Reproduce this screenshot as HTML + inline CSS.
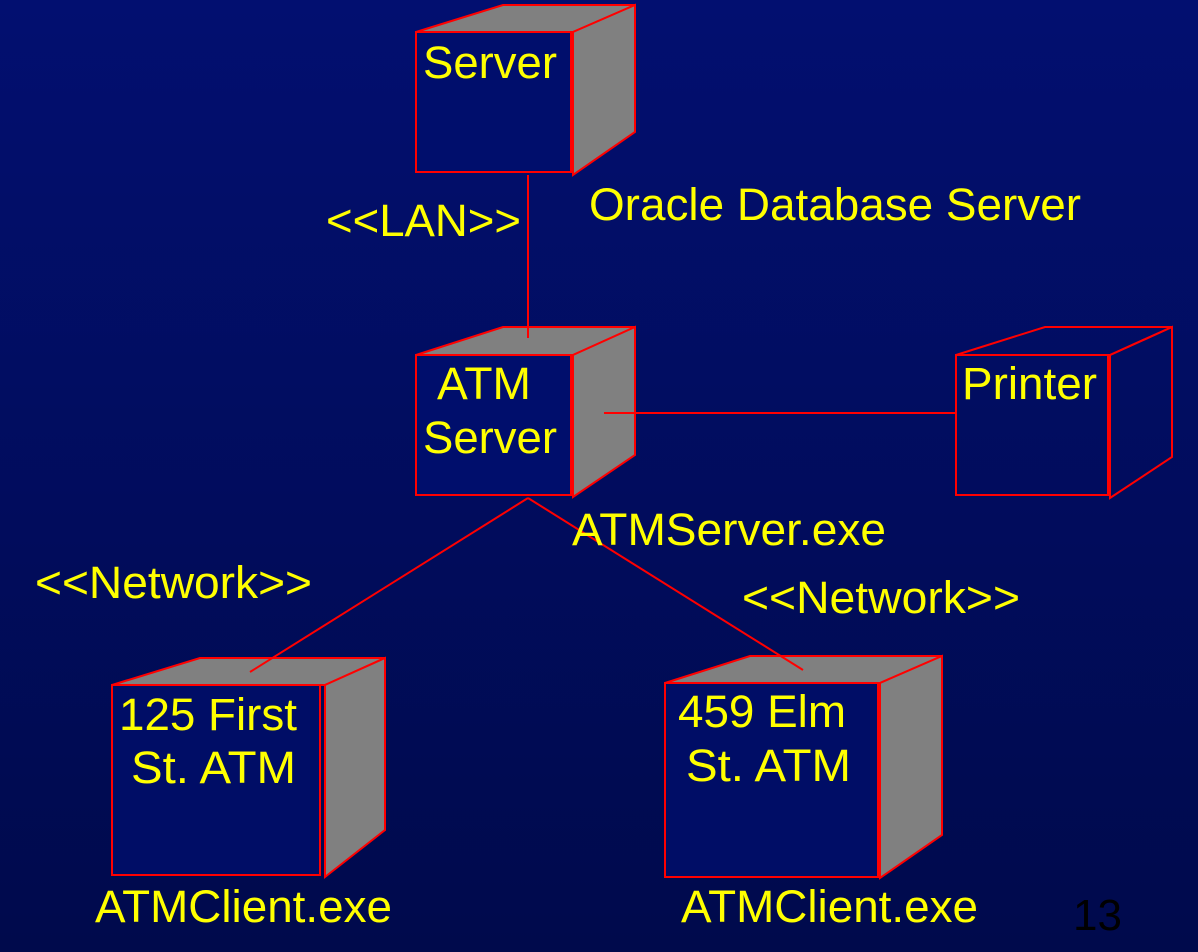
<!DOCTYPE html>
<html><head><meta charset="utf-8"><style>
html,body{margin:0;padding:0;}
body{width:1198px;height:952px;overflow:hidden;background:linear-gradient(#020f70,#000a4c);}
svg{display:block}
text{font-family:"Liberation Sans",Arial,sans-serif;font-size:45px;fill:#ffff00;}
</style></head><body>
<svg width="1198" height="952" viewBox="0 0 1198 952">
<g stroke="#ff0000" stroke-width="2" stroke-linejoin="miter">
<polygon points="416,32 503,5 635,5 573,32" fill="#808080"/>
<polygon points="573,32 635,5 635,132 573,175" fill="#808080"/>
<rect x="416" y="32" width="155" height="140" fill="#000e6c"/>
<polygon points="416,355 503,327 635,327 573,355" fill="#808080"/>
<polygon points="573,355 635,327 635,455 573,497" fill="#808080"/>
<rect x="416" y="355" width="155" height="140" fill="#000e6c"/>
<polygon points="956,355 1045,327 1172,327 1110,355" fill="none"/>
<polygon points="1110,355 1172,327 1172,457 1110,498" fill="none"/>
<rect x="956" y="355" width="152" height="140" fill="none"/>
<polygon points="112,685 200,658 385,658 325,685" fill="#808080"/>
<polygon points="325,685 385,658 385,830 325,877" fill="#808080"/>
<rect x="112" y="685" width="208" height="190" fill="#000d66"/>
<polygon points="665,683 750,656 942,656 880,683" fill="#808080"/>
<polygon points="880,683 942,656 942,835 880,878" fill="#808080"/>
<rect x="665" y="683" width="213" height="194" fill="#000d66"/>
<line x1="528" y1="175" x2="528" y2="338"/>
<line x1="604" y1="413" x2="956" y2="413"/>
<line x1="528" y1="498" x2="250" y2="672"/>
<line x1="528" y1="498" x2="803" y2="670"/>
</g>
<g lengthAdjust="spacingAndGlyphs">
<text x="423" y="78" textLength="134" lengthAdjust="spacingAndGlyphs">Server</text>
<text x="589" y="220" textLength="492" lengthAdjust="spacingAndGlyphs">Oracle Database Server</text>
<text x="326" y="236" textLength="195" lengthAdjust="spacingAndGlyphs">&lt;&lt;LAN&gt;&gt;</text>
<text x="437" y="399" textLength="94" lengthAdjust="spacingAndGlyphs">ATM</text>
<text x="423" y="453" textLength="134" lengthAdjust="spacingAndGlyphs">Server</text>
<text x="962" y="399" textLength="135" lengthAdjust="spacingAndGlyphs">Printer</text>
<text x="572" y="545" textLength="314" lengthAdjust="spacingAndGlyphs">ATMServer.exe</text>
<text x="35" y="598" textLength="277" lengthAdjust="spacingAndGlyphs">&lt;&lt;Network&gt;&gt;</text>
<text x="742" y="613" textLength="278" lengthAdjust="spacingAndGlyphs">&lt;&lt;Network&gt;&gt;</text>
<text x="119" y="730" textLength="178" lengthAdjust="spacingAndGlyphs">125 First</text>
<text x="131" y="783" textLength="165" lengthAdjust="spacingAndGlyphs">St. ATM</text>
<text x="678" y="727" textLength="168" lengthAdjust="spacingAndGlyphs">459 Elm</text>
<text x="686" y="781" textLength="165" lengthAdjust="spacingAndGlyphs">St. ATM</text>
<text x="95" y="922" textLength="297" lengthAdjust="spacingAndGlyphs">ATMClient.exe</text>
<text x="681" y="922" textLength="297" lengthAdjust="spacingAndGlyphs">ATMClient.exe</text>
</g>
<text x="1073" y="930" style="fill:#000000;font-size:44px">13</text>
</svg>
</body></html>
